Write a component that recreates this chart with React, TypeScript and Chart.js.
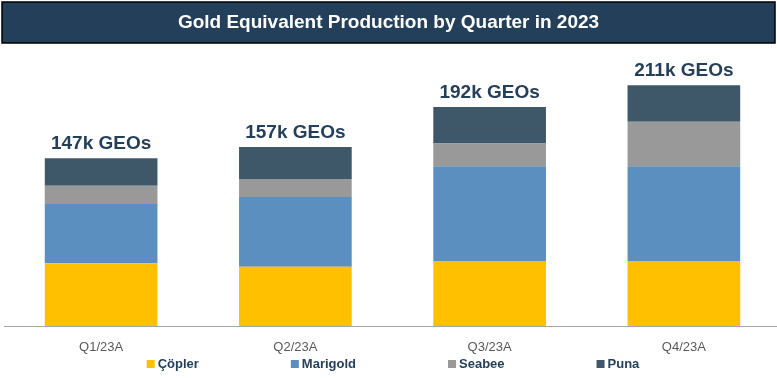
import React, { useEffect, useRef } from "react";
import { Chart, registerables } from "chart.js";

Chart.register(...registerables);

const TITLE = "Gold Equivalent Production by Quarter in 2023";
const categories = ["Q1/23A", "Q2/23A", "Q3/23A", "Q4/23A"];
const copler = [55, 52, 57, 57];
const marigold = [52, 61, 83, 83];
const seabee = [16, 16, 20, 39];
const puna = [24, 28, 32, 32];
const seriesNames = ["Çöpler", "Marigold", "Seabee", "Puna"];
const seriesColors = ["#FFC000", "#5A8FBF", "#999999", "#3E5769"];
const NAVY = "#243F5A";
const FONT = "'Liberation Sans', Arial, sans-serif";

const decorPlugin = {
  id: "decor",
  beforeDraw(chart: any) {
    const ctx = chart.ctx;
    ctx.save();
    ctx.fillStyle = "#ffffff";
    ctx.fillRect(0, 0, chart.width, chart.height);
    ctx.fillStyle = NAVY;
    ctx.fillRect(2, 2, 773, 41);
    ctx.strokeStyle = "#000000";
    ctx.lineWidth = 1.5;
    ctx.strokeRect(2, 2, 773, 41);
    ctx.fillStyle = "#ffffff";
    ctx.font = `bold 19px ${FONT}`;
    ctx.textAlign = "center";
    ctx.textBaseline = "middle";
    ctx.fillText(TITLE, 388.5, 22.5);
    ctx.restore();
  },
  afterDraw(chart: any) {
    const ctx = chart.ctx;
    ctx.save();
    const lastMeta = chart.getDatasetMeta(chart.data.datasets.length - 1);
    ctx.font = `bold 19px ${FONT}`;
    ctx.fillStyle = NAVY;
    ctx.textAlign = "center";
    ctx.textBaseline = "alphabetic";
    categories.forEach((_, i) => {
      const total = copler[i] + marigold[i] + seabee[i] + puna[i];
      const el = lastMeta.data[i];
      ctx.fillText(`${total}k GEOs`, el.x, el.y - 9);
    });
    ctx.font = `bold 13px ${FONT}`;
    const box = 8;
    const gapBoxText = 3;
    const gapItems = 92;
    const widths = seriesNames.map((n) => box + gapBoxText + ctx.measureText(n).width);
    const total = widths.reduce((a, b) => a + b, 0) + gapItems * (seriesNames.length - 1);
    let x = 393 - total / 2;
    const y = 364;
    ctx.textAlign = "left";
    ctx.textBaseline = "middle";
    seriesNames.forEach((n, i) => {
      ctx.fillStyle = seriesColors[i];
      ctx.fillRect(x, y - box / 2, box, box);
      ctx.fillStyle = NAVY;
      ctx.fillText(n, x + box + gapBoxText, y + 0.5);
      x += widths[i] + gapItems;
    });
    ctx.restore();
  },
};

export default function App() {
  const ref = useRef<HTMLCanvasElement>(null);
  useEffect(() => {
    if (!ref.current) return;
    const data = [copler, marigold, seabee, puna];
    const chart = new Chart(ref.current, {
      type: "bar",
      data: {
        labels: categories,
        datasets: seriesNames.map((name, i) => ({
          label: name,
          data: data[i],
          backgroundColor: seriesColors[i],
          borderWidth: 0,
          barPercentage: 0.58,
          categoryPercentage: 1,
        })),
      },
      options: {
        animation: false,
        responsive: false,
        maintainAspectRatio: false,
        layout: { padding: { top: 50, left: 4, right: 0, bottom: 8.4 } },
        plugins: {
          legend: { display: false },
          title: { display: false },
          tooltip: { enabled: false },
        },
        scales: {
          x: {
            stacked: true,
            grid: { display: false, drawTicks: false },
            border: { display: true, color: "#A6A6A6", width: 1 },
            ticks: {
              color: "#595959",
              font: { family: FONT, size: 13 },
              padding: 14,
            },
          },
          y: {
            stacked: true,
            display: false,
            min: 0,
            max: 242,
          },
        },
      },
      plugins: [decorPlugin],
    });
    return () => chart.destroy();
  }, []);
  return (
    <div
      style={{
        position: "fixed",
        left: 0,
        top: 0,
        width: 777,
        height: 378,
        overflow: "hidden",
        background: "#fff",
      }}
    >
      <canvas ref={ref} width={781} height={378} style={{ display: "block", width: 781, height: 378 }} />
    </div>
  );
}
